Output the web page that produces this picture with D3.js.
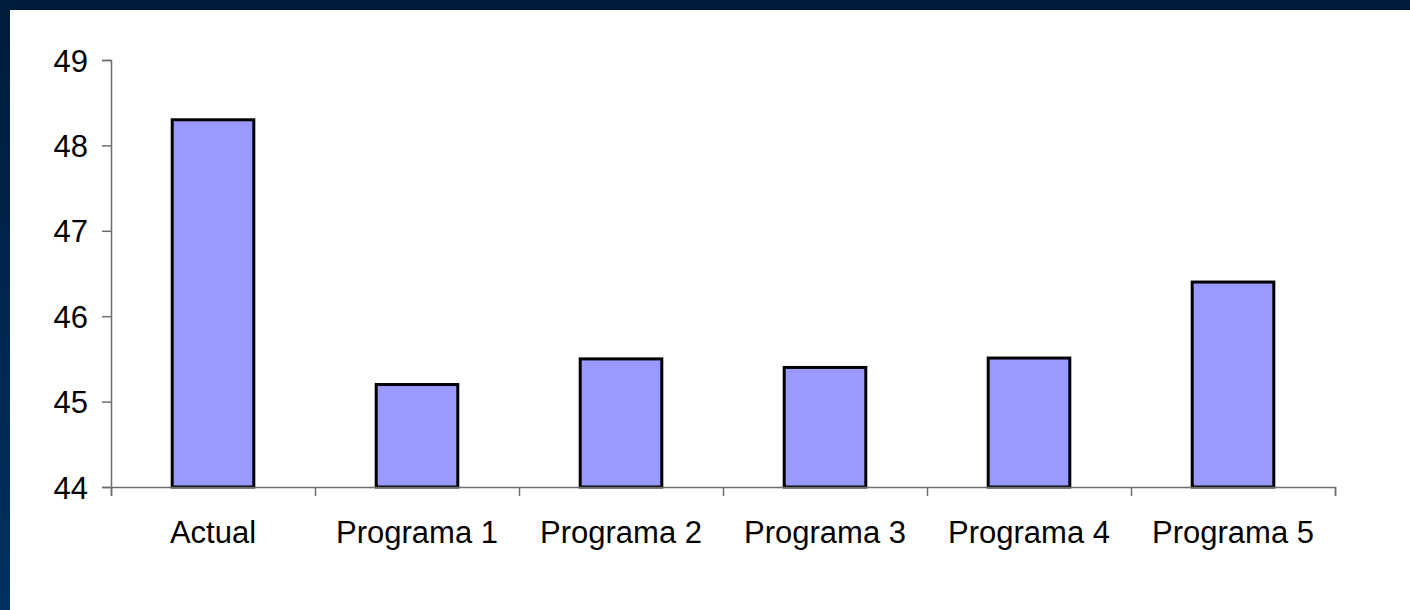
<!DOCTYPE html>
<html>
<head>
<meta charset="utf-8">
<script src="https://cdn.jsdelivr.net/npm/d3@7"></script>
<style>
  html, body { margin: 0; padding: 0; background: #ffffff; overflow: hidden; }
  svg { display: block; }
</style>
</head>
<body>
<svg id="chart"></svg>
<script>
// ---------- data ----------
var categories = ["Actual", "Programa 1", "Programa 2", "Programa 3", "Programa 4", "Programa 5"]
var values = [48.3, 45.2, 45.5, 45.4, 45.51, 46.4]
var yTicks = [44, 45, 46, 47, 48, 49]

// ---------- layout ----------
var screen = {width: 1410, height: 610}
var margins = {left: 111, right: 75, top: 60, bottom: 123}
var graph = {
  width: screen.width - margins.left - margins.right,
  height: screen.height - margins.top - margins.bottom
}

var svg = d3.select("#chart")
  .attr("width", screen.width)
  .attr("height", screen.height)

// slide frame: dark band on top and left only
var defs = svg.append("defs")
var grad = defs.append("linearGradient")
  .attr("id", "frameGrad")
  .attr("x1", 0).attr("y1", 0).attr("x2", 0).attr("y2", 1)
grad.append("stop").attr("offset", "0%").attr("stop-color", "#001c3c")
grad.append("stop").attr("offset", "100%").attr("stop-color", "#00315f")

svg.append("rect")
  .attr("x", 0).attr("y", 0)
  .attr("width", screen.width).attr("height", screen.height)
  .attr("fill", "#ffffff")
svg.append("rect")
  .attr("x", 0).attr("y", 0)
  .attr("width", screen.width).attr("height", 10)
  .attr("fill", "#001c3c")
svg.append("rect")
  .attr("x", 0).attr("y", 0)
  .attr("width", 10).attr("height", screen.height)
  .attr("fill", "url(#frameGrad)")

// ---------- scales ----------
var xScale = d3.scaleBand()
  .domain(categories)
  .range([0, graph.width])
  .paddingInner(0.6)
  .paddingOuter(0.3)

var yScale = d3.scaleLinear()
  .domain([44, 49])
  .range([graph.height, 0])

var target = svg.append("g")
  .attr("transform", "translate(" + margins.left + "," + margins.top + ")")

// ---------- bars ----------
target.selectAll("rect.bar")
  .data(values)
  .enter()
  .append("rect")
  .attr("class", "bar")
  .attr("x", function(d, i) { return xScale(categories[i]) })
  .attr("y", function(d) { return yScale(d) })
  .attr("width", xScale.bandwidth())
  .attr("height", function(d) { return graph.height - yScale(d) })
  .attr("fill", "#9999ff")
  .attr("stroke", "#000000")
  .attr("stroke-width", 3)

// ---------- axes ----------
var yAxis = d3.axisLeft(yScale)
  .tickValues(yTicks)
  .tickFormat(d3.format("d"))
  .tickSize(9)
  .tickPadding(14)

var yG = target.append("g").call(yAxis)

// category tick marks sit between bands
var step = xScale.step()
var xEdges = d3.range(categories.length + 1).map(function(i) { return i * step })
var xAxis = d3.axisBottom(d3.scaleLinear().domain([0, graph.width]).range([0, graph.width]))
  .tickValues(xEdges)
  .tickFormat("")
  .tickSize(9)

var xG = target.append("g")
  .attr("transform", "translate(0," + graph.height + ")")
  .call(xAxis)

xG.selectAll(".cat")
  .data(categories)
  .enter()
  .append("text")
  .attr("class", "cat")
  .attr("x", function(d) { return xScale(d) + xScale.bandwidth() / 2 })
  .attr("y", 56)
  .attr("text-anchor", "middle")
  .text(function(d) { return d })

svg.selectAll(".domain, .tick line")
  .attr("stroke", "#6e6e6e")
  .attr("stroke-width", 1.5)
svg.selectAll("text")
  .attr("font-family", "Liberation Sans, Arial, sans-serif")
  .attr("font-size", 31)
  .attr("fill", "#000000")
yG.selectAll(".tick text").attr("dy", "0.36em")
</script>
</body>
</html>
